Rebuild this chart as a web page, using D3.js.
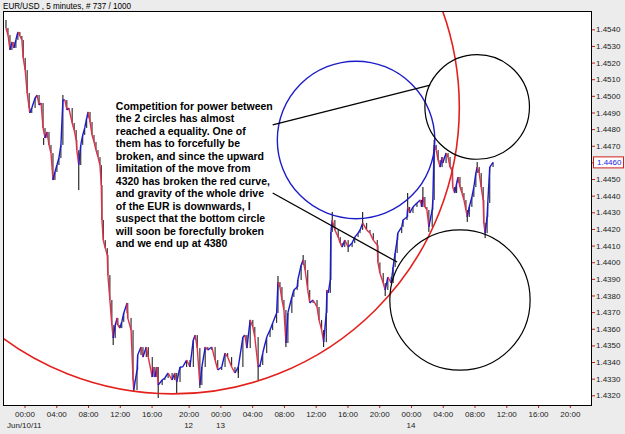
<!DOCTYPE html>
<html>
<head>
<meta charset="utf-8">
<script src="https://cdnjs.cloudflare.com/ajax/libs/d3/7.8.5/d3.min.js"></script>
<style>
  body { margin: 0; background: #ececec; }
  svg { display: block; font-family: "Liberation Sans", Arial, sans-serif; }
</style>
</head>
<body>
<svg id="chart" width="625" height="434"></svg>
<script>
// 5-minute bars (bar number, price)
var bars = [0,3,6,9,12,15,18,21,24,26,29,32,35,36,39,44,47,50,53,56,59,62,65,68,71,74,77,80,83,86,89,92,95,100,103,106,107,110,113,116,119,122,124,127,130,133,136,139,142,144,145,147,150,153,154,157,160,162,165,168,169,172,175,178,183,184,189,192,193,198,199,204,207,212,215,221,222,225,228,230,236,240,245,251,255,258,263,267,273,278,283,286,289,293,296,301,305,311,316,320,326,331,335,341,346,351,358,361,364,369,373,376,381,384,388,394,399,403,409,411,414,417,420,423,426,432,435,440,441,446,449,452,456,459,464,470,473,477,480,484,485,487,490,491,493,497,502,505,508,512,517,523,527,532,535,539,545,550,555,561,562,565,570,573,577,582,585,588,591,592,598,600,606,607,610,615,621,626,628,630,633,636,639,644,645,647,650,653,656,659,660,665,668,671,674,675,678,681,683,686,689,692,695,697,700,704,707,710,712,715,718,721,722,724,727,728,731,736];
var closes = [1.45408,1.45366,1.45276,1.45324,1.45288,1.45336,1.45384,1.45360,1.45336,1.45228,1.45155,1.45017,1.44927,1.44897,1.44927,1.44987,1.45005,1.44945,1.44957,1.44807,1.44747,1.44783,1.44705,1.44656,1.44494,1.44542,1.44584,1.44626,1.44705,1.44975,1.44975,1.44915,1.44927,1.44837,1.44795,1.44735,1.44674,1.44584,1.44705,1.44765,1.44807,1.44867,1.44903,1.44843,1.44765,1.44723,1.44674,1.44632,1.44584,1.44464,1.44254,1.44133,1.44085,1.44043,1.43923,1.43773,1.43622,1.43544,1.43622,1.43665,1.43622,1.43604,1.43641,1.43695,1.43755,1.43665,1.43592,1.43292,1.43232,1.43352,1.43442,1.43490,1.43430,1.43490,1.43430,1.43310,1.43370,1.43310,1.43370,1.43262,1.43292,1.43304,1.43334,1.43292,1.43334,1.43280,1.43370,1.43370,1.43412,1.43370,1.43532,1.43562,1.43484,1.43262,1.43370,1.43490,1.43472,1.43490,1.43412,1.43352,1.43370,1.43454,1.43430,1.43370,1.43334,1.43370,1.43550,1.43562,1.43484,1.43653,1.43611,1.43550,1.43370,1.43382,1.43454,1.43550,1.43592,1.43635,1.43695,1.43881,1.43851,1.43773,1.43713,1.43514,1.43695,1.43791,1.43833,1.43851,1.43893,1.43983,1.44013,1.43953,1.43833,1.43755,1.43773,1.43731,1.43653,1.43592,1.43520,1.43695,1.43833,1.43815,1.43893,1.44182,1.44254,1.44194,1.44151,1.44115,1.44091,1.44133,1.44091,1.44115,1.44151,1.44175,1.44194,1.44236,1.44194,1.44175,1.44133,1.44103,1.43999,1.43935,1.43875,1.43833,1.43911,1.43875,1.43971,1.44055,1.44133,1.44175,1.44212,1.44254,1.44272,1.44332,1.44296,1.44332,1.44356,1.44374,1.44332,1.44392,1.44332,1.44314,1.44212,1.44314,1.44374,1.44705,1.44674,1.44614,1.44572,1.44632,1.44596,1.44656,1.44632,1.44572,1.44554,1.44452,1.44416,1.44476,1.44512,1.44452,1.44416,1.44374,1.44314,1.44272,1.44332,1.44392,1.44452,1.44536,1.44572,1.44536,1.44452,1.44374,1.44236,1.44175,1.44272,1.44356,1.44572,1.44600];
// bar extremes that stick out (bar number, price)
var wickBars = [0,57,86,110,162,193,230,258,293,351,381,411,423,449,480,493,517,539,573,607,630,639,647,697,712,724];
var wickPrices = [1.45456,1.44705,1.45005,1.44434,1.43502,1.43220,1.43184,1.43214,1.43244,1.43304,1.43292,1.43917,1.43490,1.44043,1.43490,1.44302,1.44061,1.44302,1.43797,1.44416,1.44452,1.44182,1.44735,1.44242,1.44602,1.44145];

// axis ticks
var priceTicks = [1.4320,1.4330,1.4340,1.4350,1.4360,1.4370,1.4380,1.4390,1.4400,1.4410,1.4420,1.4430,1.4440,1.4450,1.4460,1.4470,1.4480,1.4490,1.4500,1.4510,1.4520,1.4530,1.4540];
var timeTickBars = [28,76,124,172,220,276,324,372,420,468,516,564,612,660,708,756,804,852];
var timeTickLabels = ["00:00","04:00","08:00","12:00","16:00","20:00","00:00","04:00","08:00","12:00","16:00","20:00","00:00","04:00","08:00","12:00","16:00","20:00"];
var dayBars = [276,324,612];
var dayLabels = ["12","13","14"];
var lastPrice = 1.4460;

// hand drawn annotations: circles (centre bar, centre price, radius in bars)
var circles = [
  {bar: 252, price: 1.44931, r: 433, color: "#e3201c", w: 1.6},
  {bar: 529, price: 1.44735, r: 119, color: "#1c1cc8", w: 1.4},
  {bar: 712, price: 1.44933, r: 79, color: "#000", w: 1.2},
  {bar: 686, price: 1.43773, r: 106, color: "#000", w: 1.2}
];
var lines = [
  {b1: 403, p1: 1.44825, b2: 641, p2: 1.45065},
  {b1: 403, p1: 1.44416, b2: 591, p2: 1.44001}
];
var noteLines = [
  "Competition for power between",
  "the 2 circles has almost",
  "reached a equality.  One of",
  "them has to forcefully be",
  "broken, and since the upward",
  "limitation of the move from",
  "4320 has broken the red curve,",
  "and gravity of the whole drive",
  "of the EUR is downwards, I",
  "suspect that the bottom circle",
  "will soon be forecfully broken",
  "and we end up at 4380"
];

var svg = d3.select("#chart");
var plot = {left: 3, top: 11, right: 592, bottom: 406};

var x = d3.scaleLinear().domain([-4.5, 885.5]).range([plot.left, plot.right]);
var y = d3.scaleLinear().domain([1.4320, 1.4540]).range([395.3, 29.3]);

svg.append("rect").attr("width", 625).attr("height", 434).attr("fill", "#ececec");

svg.append("text").attr("x", 3).attr("y", 9)
  .attr("font-size", 9.5).attr("fill", "#000")
  .attr("textLength", 128).attr("lengthAdjust", "spacingAndGlyphs")
  .text("EUR/USD , 5 minutes, # 737 / 1000");

svg.append("defs").append("clipPath").attr("id", "clip")
  .append("rect").attr("x", plot.left).attr("y", plot.top)
  .attr("width", plot.right - plot.left).attr("height", plot.bottom - plot.top);

svg.append("rect")
  .attr("x", plot.left).attr("y", plot.top)
  .attr("width", plot.right - plot.left).attr("height", plot.bottom - plot.top)
  .attr("fill", "#fff");

var g = svg.append("g").attr("clip-path", "url(#clip)");

var pts = bars.map(function(b, i) { return {bar: b, p: closes[i]}; });

// black wicks
g.selectAll(".wick")
  .data(wickBars)
  .enter().append("line")
  .attr("class", "wick")
  .attr("x1", function(d) { return x(d); })
  .attr("x2", function(d) { return x(d); })
  .attr("y1", function(d, i) { return y(wickPrices[i]); })
  .attr("y2", function(d) {
    var j = d3.bisectLeft(bars, d);
    return y(closes[Math.min(j, closes.length - 1)]);
  })
  .attr("stroke", "#000").attr("stroke-width", 1);

// black bar bodies
g.selectAll(".body")
  .data(pts.slice(1))
  .enter().append("line")
  .attr("class", "body")
  .attr("x1", function(d) { return x(d.bar); })
  .attr("x2", function(d) { return x(d.bar); })
  .attr("y1", function(d, i) { return y(pts[i].p); })
  .attr("y2", function(d) { return y(d.p); })
  .attr("stroke", "#111").attr("stroke-width", 1);

// coloured moves: blue up, red down
g.selectAll(".seg")
  .data(pts.slice(1))
  .enter().append("line")
  .attr("class", "seg")
  .attr("x1", function(d, i) { return x(pts[i].bar); })
  .attr("y1", function(d, i) { return y(pts[i].p); })
  .attr("x2", function(d) { return x(d.bar); })
  .attr("y2", function(d) { return y(d.p); })
  .attr("stroke", function(d, i) { return d.p >= pts[i].p ? "#1a1ad0" : "#e0304a"; })
  .attr("stroke-width", 1.4);

// circles
g.selectAll(".circ")
  .data(circles)
  .enter().append("circle")
  .attr("class", "circ")
  .attr("cx", function(d) { return x(d.bar); })
  .attr("cy", function(d) { return y(d.price); })
  .attr("r", function(d) { return x(d.bar + d.r) - x(d.bar); })
  .attr("fill", "none")
  .attr("stroke", function(d) { return d.color; })
  .attr("stroke-width", function(d) { return d.w; });

g.selectAll(".ann")
  .data(lines)
  .enter().append("line")
  .attr("class", "ann")
  .attr("x1", function(d) { return x(d.b1); })
  .attr("y1", function(d) { return y(d.p1); })
  .attr("x2", function(d) { return x(d.b2); })
  .attr("y2", function(d) { return y(d.p2); })
  .attr("stroke", "#000").attr("stroke-width", 1.3);

// the note
var note = g.append("text")
  .attr("x", x(166)).attr("y", y(1.44915))
  .attr("font-size", 10.5).attr("font-weight", "bold").attr("fill", "#000");
note.selectAll("tspan")
  .data(noteLines)
  .enter().append("tspan")
  .attr("x", x(166))
  .attr("dy", function(d, i) { return i == 0 ? 0 : 12.5; })
  .text(function(d) { return d; });

// frame
svg.append("rect")
  .attr("x", plot.left + 0.5).attr("y", plot.top + 0.5)
  .attr("width", plot.right - plot.left - 1).attr("height", plot.bottom - plot.top - 1)
  .attr("fill", "none").attr("stroke", "#000");

// price axis
var yAxis = svg.append("g")
  .attr("transform", "translate(" + plot.right + ",0)")
  .call(d3.axisRight(y).tickValues(priceTicks).tickSize(3).tickPadding(1)
    .tickFormat(d3.format(".4f")));
yAxis.select(".domain").remove();
yAxis.selectAll(".tick line").attr("stroke", "#c02020");
yAxis.selectAll(".tick text").attr("font-size", 8).attr("fill", "#222")
  .attr("font-family", "Liberation Sans, Arial, sans-serif");

// last price marker
var lp = svg.append("g").attr("transform", "translate(" + (plot.right + 1) + "," + y(lastPrice) + ")");
lp.append("rect").attr("x", 0.5).attr("y", -5.5).attr("width", 30).attr("height", 11)
  .attr("fill", "#fff").attr("stroke", "#d02020");
lp.append("text").attr("x", 4).attr("y", 3).attr("font-size", 8).attr("fill", "#1a1ae0")
  .text(d3.format(".4f")(lastPrice));

// time axis
var xAxis = svg.append("g")
  .attr("transform", "translate(0," + plot.bottom + ")")
  .call(d3.axisBottom(x).tickValues(timeTickBars).tickSize(2).tickPadding(3)
    .tickFormat(function(d, i) { return timeTickLabels[i]; }));
xAxis.select(".domain").remove();
xAxis.selectAll(".tick line").attr("stroke", "#c02020");
xAxis.selectAll(".tick text").attr("font-size", 8).attr("fill", "#222")
  .attr("font-family", "Liberation Sans, Arial, sans-serif");

svg.selectAll(".day")
  .data(dayBars)
  .enter().append("text")
  .attr("class", "day")
  .attr("x", function(d) { return x(d); })
  .attr("y", 428)
  .attr("text-anchor", "middle")
  .attr("font-size", 8).attr("fill", "#222")
  .text(function(d, i) { return dayLabels[i]; });

svg.append("text").attr("x", 7).attr("y", 428)
  .attr("font-size", 8).attr("fill", "#222").text("Jun/10/11");
</script>
</body>
</html>
